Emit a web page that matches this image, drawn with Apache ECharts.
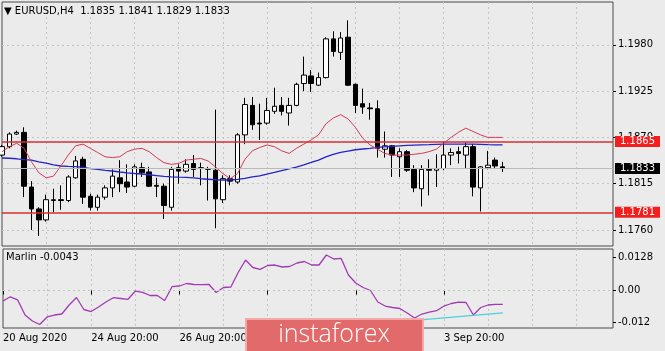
<!DOCTYPE html>
<html>
<head>
<meta charset="utf-8">
<script src="https://cdn.jsdelivr.net/npm/echarts@6/dist/echarts.min.js"></script>
<style>
  html, body { margin: 0; padding: 0; background: #ebebeb; }
  #chart { width: 665px; height: 351px; }
</style>
</head>
<body>
<div id="chart"></div>
<script>
// EURUSD H4, bars from 20 Aug 2020 20:00
const opens = [1.1849,1.1859,1.1874,1.1876,1.1811,1.1785,1.1772,1.1795,1.1796,1.1795,
  1.1822,1.1844,1.1800,1.1787,1.1799,1.1810,1.1822,1.1817,1.1812,1.1834,
  1.1829,1.1813,1.1812,1.1787,1.1834,1.1830,1.1839,1.1834,1.1832,1.1831,
  1.1796,1.1821,1.1817,1.1873,1.1908,1.1887,1.1887,1.1901,1.1908,1.1899,
  1.1908,1.1934,1.1943,1.1932,1.1941,1.1987,1.1971,1.1989,1.1933,1.1910,
  1.1905,1.1904,1.1856,1.1860,1.1847,1.1853,1.1832,1.1809,1.1832,1.1831,
  1.1833,1.1849,1.1853,1.1849,1.1859,1.1810,1.1834,1.1843,1.1835];
const highs = [1.1861,1.1876,1.1878,1.1882,1.1818,1.1787,1.1802,1.1809,1.1813,1.1825,
  1.1848,1.1847,1.1803,1.1802,1.1813,1.1832,1.1843,1.1838,1.1838,1.1840,
  1.1835,1.1822,1.1815,1.1835,1.1838,1.1844,1.1849,1.1840,1.1835,1.1903,
  1.1825,1.1825,1.1875,1.1917,1.1918,1.1910,1.1917,1.1929,1.1918,1.1917,
  1.1935,1.1966,1.1950,1.1947,1.1989,1.1996,1.1995,1.2009,1.1934,1.1928,
  1.1911,1.1914,1.1877,1.1861,1.1857,1.1855,1.1837,1.1837,1.1844,1.1850,
  1.1865,1.1857,1.1859,1.1864,1.1862,1.1836,1.1854,1.1846,1.1841];
const lows = [1.1847,1.1857,1.1873,1.1799,1.1760,1.1753,1.1770,1.1781,1.1784,1.1793,
  1.1821,1.1791,1.1783,1.1783,1.1796,1.1799,1.1805,1.1804,1.1811,1.1823,
  1.1811,1.1799,1.1773,1.1783,1.1815,1.1828,1.1823,1.1813,1.1795,1.1762,
  1.1792,1.1813,1.1815,1.1862,1.1879,1.1867,1.1885,1.1898,1.1896,1.1884,
  1.1907,1.1925,1.1924,1.1931,1.1940,1.1966,1.1962,1.1931,1.1899,1.1898,
  1.1891,1.1846,1.1846,1.1823,1.1823,1.1829,1.1805,1.1788,1.1801,1.1811,
  1.1831,1.1837,1.1839,1.1833,1.1800,1.1782,1.1832,1.1833,1.1829];
const closes = [1.1859,1.1874,1.1876,1.1812,1.1785,1.1772,1.1796,1.1796,1.1795,1.1823,
  1.1842,1.1799,1.1787,1.1799,1.1810,1.1824,1.1815,1.1811,1.1835,1.1828,
  1.1812,1.1812,1.1789,1.1832,1.1830,1.1838,1.1832,1.1833,1.1833,1.1797,
  1.1821,1.1818,1.1873,1.1909,1.1885,1.1886,1.1902,1.1907,1.1901,1.1908,
  1.1933,1.1944,1.1934,1.1941,1.1987,1.1972,1.1988,1.1932,1.1908,1.1906,
  1.1904,1.1857,1.1860,1.1849,1.1853,1.1831,1.1810,1.1832,1.1831,1.1833,
  1.1849,1.1852,1.1851,1.1859,1.1811,1.1835,1.1837,1.1836,1.1833];

const fastMA = [1.1853,1.1859,1.1863,1.1857,1.1841,1.1828,1.1822,1.1824,1.1836,1.1849,
  1.1860,1.1862,1.1857,1.1852,1.1847,1.1846,1.1847,1.1853,1.1856,1.1857,
  1.1853,1.1846,1.1840,1.1838,1.1839,1.1843,1.1844,1.1845,1.1842,1.1835,
  1.1827,1.1821,1.1827,1.1844,1.1854,1.1858,1.1861,1.1859,1.1854,1.1851,
  1.1857,1.1862,1.1867,1.1873,1.1886,1.1893,1.1897,1.1892,1.1882,1.1869,
  1.1861,1.1856,1.1851,1.1849,1.1849,1.1849,1.1850,1.1851,1.1853,1.1856,
  1.1863,1.1870,1.1876,1.1881,1.1877,1.1873,1.1870,1.1870,1.1870];
const slowMA = [1.18455,1.18452,1.18446,1.18437,1.18429,1.18410,1.18393,1.18374,1.18360,1.18355,
  1.18352,1.18345,1.18330,1.18319,1.18309,1.18301,1.18289,1.18279,1.18271,1.18265,
  1.18256,1.18247,1.18238,1.18232,1.18227,1.18224,1.18218,1.18209,1.18203,1.18197,
  1.18194,1.18194,1.18202,1.18214,1.18230,1.18244,1.18265,1.18285,1.18306,1.18327,
  1.18348,1.18374,1.18402,1.18431,1.18469,1.18497,1.18523,1.18538,1.18553,1.18562,
  1.18570,1.18582,1.18588,1.18594,1.18600,1.18604,1.18607,1.18610,1.18613,1.18617,
  1.18619,1.18621,1.18621,1.18621,1.18619,1.18617,1.18614,1.18612,1.18610];

const marlin = [-0.0040,-0.0024,-0.0036,-0.00935,-0.01164,-0.01298,-0.01011,-0.00935,-0.00897,-0.00553,
  -0.00267,-0.00725,-0.00802,-0.0063,-0.00439,-0.00275,-0.00305,-0.00336,-0.00027,-0.00069,
  -0.00191,-0.00191,-0.00382,0.00145,0.00172,0.00267,0.00229,0.00221,0.00237,-0.00076,
  0.00115,0.00134,0.00687,0.01164,0.00878,0.00809,0.00954,0.00973,0.00897,0.00916,
  0.0105,0.01107,0.00973,0.00973,0.01355,0.01202,0.01229,0.00592,0.00286,0.00115,
  0,-0.00439,-0.00592,-0.00649,-0.00687,-0.00859,-0.0105,-0.00897,-0.00821,-0.00771,
  -0.00592,-0.00496,-0.00447,-0.00458,-0.00935,-0.00649,-0.00553,-0.00527,-0.00527];
// trend line under the indicator: start and end points only
const trendBars = [56, 68];
const trendValues = [-0.0114, -0.0085];

const priceTicks = [1.1760, 1.1815, 1.1870, 1.1925, 1.1980];
const marlinTicks = [-0.012, 0, 0.0128];
const marlinTickLabels = ['-0.012', '0.00', '0.0128'];
const timeLabels = ['20 Aug 2020', '24 Aug 20:00', '26 Aug 20:00', '28 Aug 20:00', '1 Sep 20:00', '3 Sep 20:00'];
const levelHigh = 1.1865;
const levelLow = 1.1781;
const bid = 1.1833;

const slots = 84; // visible bar slots incl. empty space on the right
const cats = Array.from({ length: slots }, (_, i) => String(i));
const candles = opens.map((o, i) => [o, closes[i], lows[i], highs[i]]);
const trend = cats.map(() => null);
trendBars.forEach((b, k) => { trend[b] = trendValues[k]; });

const font = 'DejaVu Sans';
const gridLine = { show: true, lineStyle: { color: '#c4c4c4', type: [2, 3], width: 1 } };

const chart = echarts.init(document.getElementById('chart'));

function xAxisFor(gi, withLabels) {
  return {
    type: 'category', gridIndex: gi, data: cats, boundaryGap: false,
    axisLine: { show: false },
    axisTick: {
      show: withLabels, length: 4, lineStyle: { color: '#000' },
      interval: (i) => i % 12 === 0 && i / 12 < timeLabels.length
    },
    axisLabel: {
      show: withLabels, align: 'left', margin: 5, color: '#000', fontSize: 10, fontFamily: font,
      interval: (i) => i % 12 === 0 && i / 12 < timeLabels.length,
      formatter: (v, i) => timeLabels[i / 12] || ''
    },
    splitLine: Object.assign({ interval: (i) => i > 0 && i % 6 === 0 }, gridLine)
  };
}

function levelLine(value, lineColor, boxColor) {
  return {
    yAxis: value,
    lineStyle: { color: lineColor, width: value === bid ? 1 : 1.5, type: 'solid' },
    label: { backgroundColor: boxColor, formatter: value.toFixed(4) }
  };
}

chart.setOption({
  backgroundColor: '#ebebeb',
  animation: false,
  title: [
    { text: '▼ EURUSD,H4  1.1835 1.1841 1.1829 1.1833', left: 4, top: 6, padding: 0,
      textStyle: { fontSize: 10, fontWeight: 'normal', color: '#000', fontFamily: font } },
    { text: 'Marlin -0.0043', left: 6, top: 252, padding: 0,
      textStyle: { fontSize: 10, fontWeight: 'normal', color: '#000', fontFamily: font } }
  ],
  grid: [
    { left: 2, right: 52, top: 2, height: 244, show: true, borderColor: '#4a4a4a', borderWidth: 1 },
    { left: 2, right: 52, top: 249, height: 79, show: true, borderColor: '#4a4a4a', borderWidth: 1 }
  ],
  xAxis: [xAxisFor(0, false), xAxisFor(1, true)],
  yAxis: [
    {
      type: 'value', gridIndex: 0, position: 'right', min: 1.17410, max: 1.20308,
      axisLine: { show: false },
      axisTick: { show: true, length: 3, customValues: priceTicks, lineStyle: { color: '#000' } },
      axisLabel: { customValues: priceTicks, margin: 5, color: '#000', fontSize: 10, fontFamily: font,
        formatter: (v) => v.toFixed(4) },
      splitLine: gridLine
    },
    {
      type: 'value', gridIndex: 1, position: 'right', min: -0.01431, max: 0.01584,
      axisLine: { show: false },
      axisTick: { show: true, length: 3, customValues: marlinTicks, lineStyle: { color: '#000' } },
      axisLabel: { customValues: marlinTicks, margin: 5, color: '#000', fontSize: 10, fontFamily: font,
        formatter: (v) => marlinTickLabels[marlinTicks.findIndex((t) => Math.abs(t - v) < 1e-9)] },
      splitLine: { show: false }
    }
  ],
  series: [
    {
      type: 'candlestick', xAxisIndex: 0, yAxisIndex: 0, data: candles, barWidth: 5,
      itemStyle: { color: '#fff', color0: '#000', borderColor: '#000', borderColor0: '#000', borderWidth: 1 }
    },
    {
      type: 'line', xAxisIndex: 0, yAxisIndex: 0, data: slowMA, showSymbol: false,
      lineStyle: { color: '#2424c8', width: 1.3 },
      markLine: {
        silent: true, symbol: ['none', 'none'], animation: false, precision: 4,
        label: { show: true, position: 'end', distance: 2, fontSize: 10, fontFamily: font,
          color: '#fff', padding: [1, 5, 0, 5] },
        data: [
          levelLine(bid, '#b9b9b9', '#000'),
          levelLine(levelHigh, '#d63030', '#f41e1e'),
          levelLine(levelLow, '#d63030', '#f41e1e')
        ]
      }
    },
    {
      type: 'line', xAxisIndex: 0, yAxisIndex: 0, data: fastMA, showSymbol: false,
      lineStyle: { color: '#d33b57', width: 1 }
    },
    {
      type: 'line', xAxisIndex: 1, yAxisIndex: 1, data: marlin, showSymbol: false,
      lineStyle: { color: '#a23bb4', width: 1.3 },
      markLine: {
        silent: true, symbol: ['none', 'none'], label: { show: false }, precision: 4,
        lineStyle: { color: '#c4c4c4', type: [2, 3], width: 1 },
        data: [{ yAxis: 0 }]
      }
    },
    {
      type: 'line', xAxisIndex: 1, yAxisIndex: 1, data: trend, showSymbol: false, connectNulls: true,
      lineStyle: { color: '#4fcfdc', width: 1.3 }
    }
  ],
  graphic: [{
    type: 'group', left: 245, top: 318, z: 100, zlevel: 1,
    children: [
      { type: 'rect', z: 100, zlevel: 1, shape: { x: 0, y: 0, width: 177, height: 40 },
        style: { fill: '#e26a6a', stroke: '#f0aaaa', lineWidth: 2 } },
      { type: 'text', z: 101, zlevel: 1, x: 88, y: 16,
        style: { text: 'instaforex', fill: '#fff', font: '300 25px "Open Sans"', align: 'center', verticalAlign: 'middle' } }
    ]
  }]
});
</script>
</body>
</html>
